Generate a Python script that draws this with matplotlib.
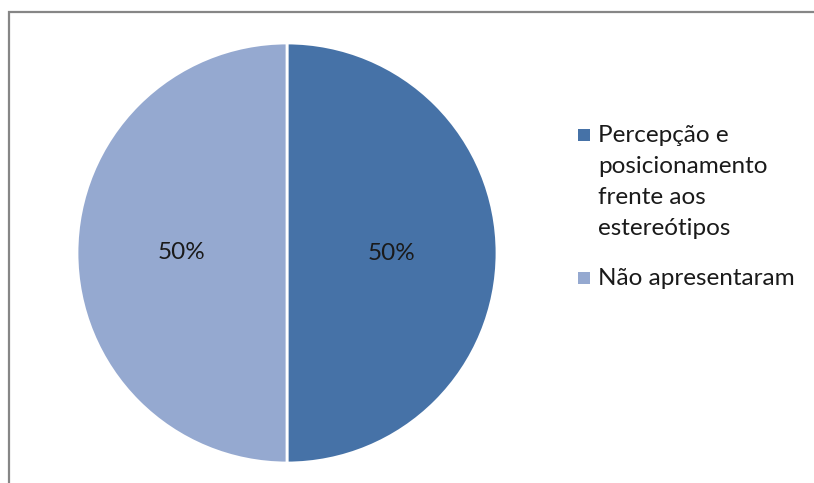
import matplotlib.pyplot as plt
from matplotlib.patches import Rectangle

labels = ['Percepção e\nposicionamento\nfrente aos\nestereótipos', 'Não apresentaram']
values = [50, 50]
colors = ['#4672A7', '#95A9D0']

plt.rcParams['font.family'] = ['Lato', 'DejaVu Sans']

W, H = 814, 483
fig = plt.figure(figsize=(W / 100, H / 100), dpi=100)

# pie axes: centre (287, 253) px, radius 210 px
cx, cy, r = 287, 253, 210
ax = fig.add_axes([(cx - r) / W, (H - cy - r) / H, 2 * r / W, 2 * r / H])
wedges, texts, autotexts = ax.pie(values, colors=colors, startangle=90, counterclock=False,
                                  autopct='%d%%', pctdistance=0.5, radius=1,
                                  wedgeprops=dict(edgecolor='white', linewidth=2),
                                  textprops=dict(fontsize=17.5, color='#1a1a1a'))
ax.set_xlim(-1, 1)
ax.set_ylim(-1, 1)
ax.set_aspect('auto')

# legend drawn by hand: square + one text per line, 31 px line pitch
line_px = 31
text_x = 598
sq = 12
base_y = 142
for lab, c in zip(labels, colors):
    lines = lab.split('\n')
    fig.add_artist(Rectangle((578 / W, (H - base_y + 1) / H), sq / W, sq / H,
                             transform=fig.transFigure, facecolor=c, edgecolor='none'))
    for i, ln in enumerate(lines):
        fig.text(text_x / W, (H - base_y - i * line_px) / H, ln, fontsize=17.5,
                 color='#1a1a1a', va='baseline', ha='left')
    base_y += (len(lines) - 1) * line_px + 50

# chart-area border (top and left edges only are inside the image)
fig.add_artist(Rectangle((9 / W, -0.1), 1.2, 1 - 12 / H + 0.1, transform=fig.transFigure,
                         fill=False, edgecolor='#868686', linewidth=1.6))

fig.savefig('out.png', dpi=100)
